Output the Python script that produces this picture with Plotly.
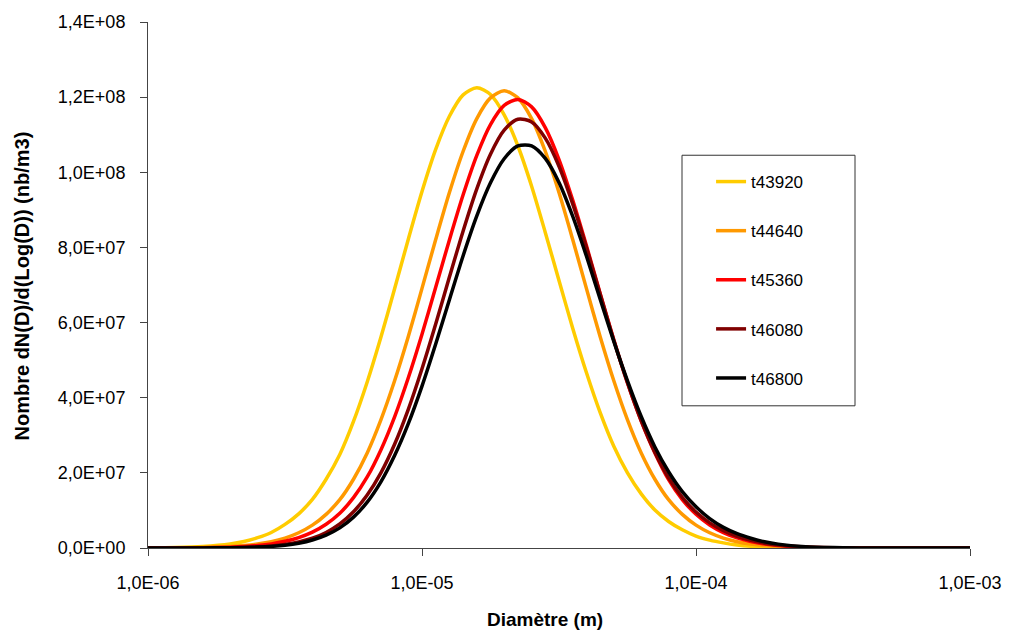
import plotly.graph_objects as go

# ---- data (diameter in m, number density in nb/m3) ----
names = ["t43920", "t44640", "t45360", "t46080", "t46800"]
colors = ["#FFCC00", "#FF9900", "#FF0000", "#800000", "#000000"]

# diameters (m): coarse in the tails, finer where the curves rise and fall
diam = [1.000e-6, 1.259e-6, 1.585e-6,
        1.995e-6, 2.239e-6, 2.512e-6, 2.818e-6, 3.162e-6, 3.548e-6, 3.981e-6, 4.467e-6, 5.012e-6, 5.623e-6,
        6.310e-6, 7.079e-6, 7.943e-6, 8.913e-6, 1.000e-5, 1.122e-5, 1.259e-5, 1.413e-5, 1.585e-5, 1.778e-5,
        1.995e-5, 2.239e-5, 2.512e-5, 2.818e-5, 3.162e-5, 3.548e-5, 3.981e-5, 4.467e-5, 5.012e-5, 5.623e-5,
        6.310e-5, 7.079e-5, 7.943e-5, 8.913e-5, 1.000e-4, 1.122e-4, 1.259e-4, 1.413e-4, 1.585e-4, 1.778e-4,
        1.995e-4,
        2.512e-4, 3.162e-4, 3.981e-4, 5.012e-4, 6.310e-4, 7.943e-4, 1.000e-3]

# values in millions of nb/m3
v_t43920 = [0.03, 0.12, 0.39,
            1.06, 1.72, 2.74, 4.13, 6.28, 9.09, 12.95, 18.3, 24.9, 33.7,
            44.2, 56.1, 69.0, 82.2, 94.9, 106.1, 114.9, 120.6, 122.5, 120.7,
            115.3, 107.0, 96.3, 84.0, 71.2, 58.5, 46.7, 36.1, 27.1, 20.0,
            14.4, 10.1, 7.06, 4.84, 3.17, 2.10, 1.36, 0.81, 0.47, 0.27,
            0.15,
            0.04, 0.01, 0, 0, 0, 0, 0]
v_t44640 = [0.01, 0.03, 0.12,
            0.39, 0.65, 1.06, 1.68, 2.64, 4.05, 6.08, 8.95, 12.86, 18.3,
            25.3, 34.1, 44.5, 56.3, 69.1, 82.1, 94.6, 105.6, 114.3, 119.8,
            121.7, 119.8, 114.3, 105.6, 94.6, 82.1, 69.1, 56.3, 44.5, 34.1,
            25.3, 18.3, 12.86, 8.95, 6.08, 4.05, 2.64, 1.68, 1.06, 0.65,
            0.39,
            0.12, 0.03, 0.01, 0, 0, 0, 0]
v_t45360 = [0, 0.02, 0.06,
            0.22, 0.39, 0.67, 1.10, 1.78, 2.77, 4.22, 6.31, 9.24, 13.4,
            18.9, 26.1, 34.9, 45.3, 56.9, 69.4, 82.0, 94.0, 104.5, 112.7,
            117.8, 119.4, 117.4, 111.9, 103.4, 92.6, 80.5, 67.8, 55.4, 43.9,
            33.8, 25.3, 18.2, 12.9, 8.98, 6.13, 4.10, 2.69, 1.73, 1.07,
            0.65,
            0.20, 0.06, 0.015, 0, 0, 0, 0]
v_t46080 = [0, 0.005, 0.02,
            0.09, 0.16, 0.30, 0.55, 0.97, 1.60, 2.59, 4.14, 6.40, 9.63,
            14.1, 20.0, 27.6, 36.9, 47.7, 59.6, 72.1, 84.4, 95.6, 104.8,
            111.2, 114.1, 113.4, 109.1, 101.6, 91.6, 80.0, 67.6, 55.3, 44.0,
            33.9, 25.5, 18.7, 13.5, 9.56, 6.69, 4.61, 3.08, 2.03, 1.29,
            0.81,
            0.27, 0.08, 0.02, 0.005, 0, 0, 0]
v_t46800 = [0, 0.003, 0.016,
            0.07, 0.13, 0.24, 0.43, 0.75, 1.28, 2.12, 3.42, 5.35, 8.21,
            12.2, 17.6, 24.6, 33.1, 43.1, 54.3, 66.1, 77.8, 88.4, 97.2,
            103.6, 107.0, 107.05, 103.7, 97.3, 88.3, 77.7, 66.3, 55.0, 44.5,
            35.0, 26.9, 20.3, 15.0, 10.96, 7.83, 5.50, 3.81, 2.60, 1.65,
            1.03,
            0.36, 0.11, 0.03, 0.008, 0, 0, 0]
unit = 1e6

x_tickvals = [1e-6, 1e-5, 1e-4, 1e-3]
x_ticktext = ["1,0E-06", "1,0E-05", "1,0E-04", "1,0E-03"]
y_tickvals = [0, 2e7, 4e7, 6e7, 8e7, 1e8, 1.2e8, 1.4e8]
y_ticktext = ["0,0E+00", "2,0E+07", "4,0E+07", "6,0E+07", "8,0E+07", "1,0E+08", "1,2E+08", "1,4E+08"]

x_title = "Diamètre (m)"
y_title = "Nombre dN(D)/d(Log(D)) (nb/m3)"

series_v = [v_t43920, v_t44640, v_t45360, v_t46080, v_t46800]

FONT = "Liberation Sans, Arial, sans-serif"

fig = go.Figure()
for name, color, v in zip(names, colors, series_v):
    fig.add_trace(go.Scatter(
        x=diam, y=[val * unit for val in v], name=name, mode="lines",
        line=dict(color=color, width=3.5, shape="spline", smoothing=0.8),
        legendgroup=name,
    ))

fig.update_layout(
    width=1017, height=633,
    margin=dict(l=148, r=47, t=19, b=85),
    paper_bgcolor="white", plot_bgcolor="white",
    font=dict(family=FONT, size=18, color="black"),
    showlegend=True,
    legend=dict(
        x=0.685, y=0.730, xanchor="left", yanchor="top",
        bgcolor="rgba(0,0,0,0)", borderwidth=0,
        font=dict(family=FONT, size=17, color="black"),
        tracegroupgap=24, itemwidth=30,
    ),
    xaxis=dict(
        type="log", range=[-6, -3],
        tickmode="array", tickvals=x_tickvals, ticktext=x_ticktext,
        ticks="outside", ticklen=7, tickwidth=1, tickcolor="#444",
        showline=True, linecolor="#444", linewidth=1,
        showgrid=False, zeroline=False,
        tickfont=dict(family=FONT, size=18),
        ticklabelstandoff=11,
    ),
    yaxis=dict(
        range=[0, 1.4e8],
        tickmode="array", tickvals=y_tickvals, ticktext=y_ticktext,
        ticks="outside", ticklen=7, tickwidth=1, tickcolor="#444",
        showline=True, linecolor="#444", linewidth=1,
        showgrid=False, zeroline=False,
        tickfont=dict(family=FONT, size=18),
        ticklabelstandoff=11,
    ),
    shapes=[dict(
        type="rect", xref="paper", yref="paper",
        x0=(682 - 148) / 822, x1=(855 - 148) / 822,
        y0=(548 - 405) / 529, y1=(548 - 153) / 529,
        line=dict(color="#333", width=1), fillcolor="rgba(0,0,0,0)", layer="below",
    )],
    annotations=[
        dict(text="<b>" + x_title + "</b>", xref="paper", yref="paper",
             x=(545 - 148) / 822, y=(548 - 620) / 529, xanchor="center", yanchor="middle",
             showarrow=False, font=dict(family=FONT, size=19, color="black")),
        dict(text="<b>" + y_title + "</b>", xref="paper", yref="paper",
             x=(22 - 148) / 822, y=(548 - 285) / 529, xanchor="center", yanchor="middle",
             textangle=-90, showarrow=False, font=dict(family=FONT, size=20, color="black")),
    ],
)

fig.write_html("out.html",
               config={"displayModeBar": False},
               post_script="document.body.style.margin='0';document.body.style.padding='0';")
